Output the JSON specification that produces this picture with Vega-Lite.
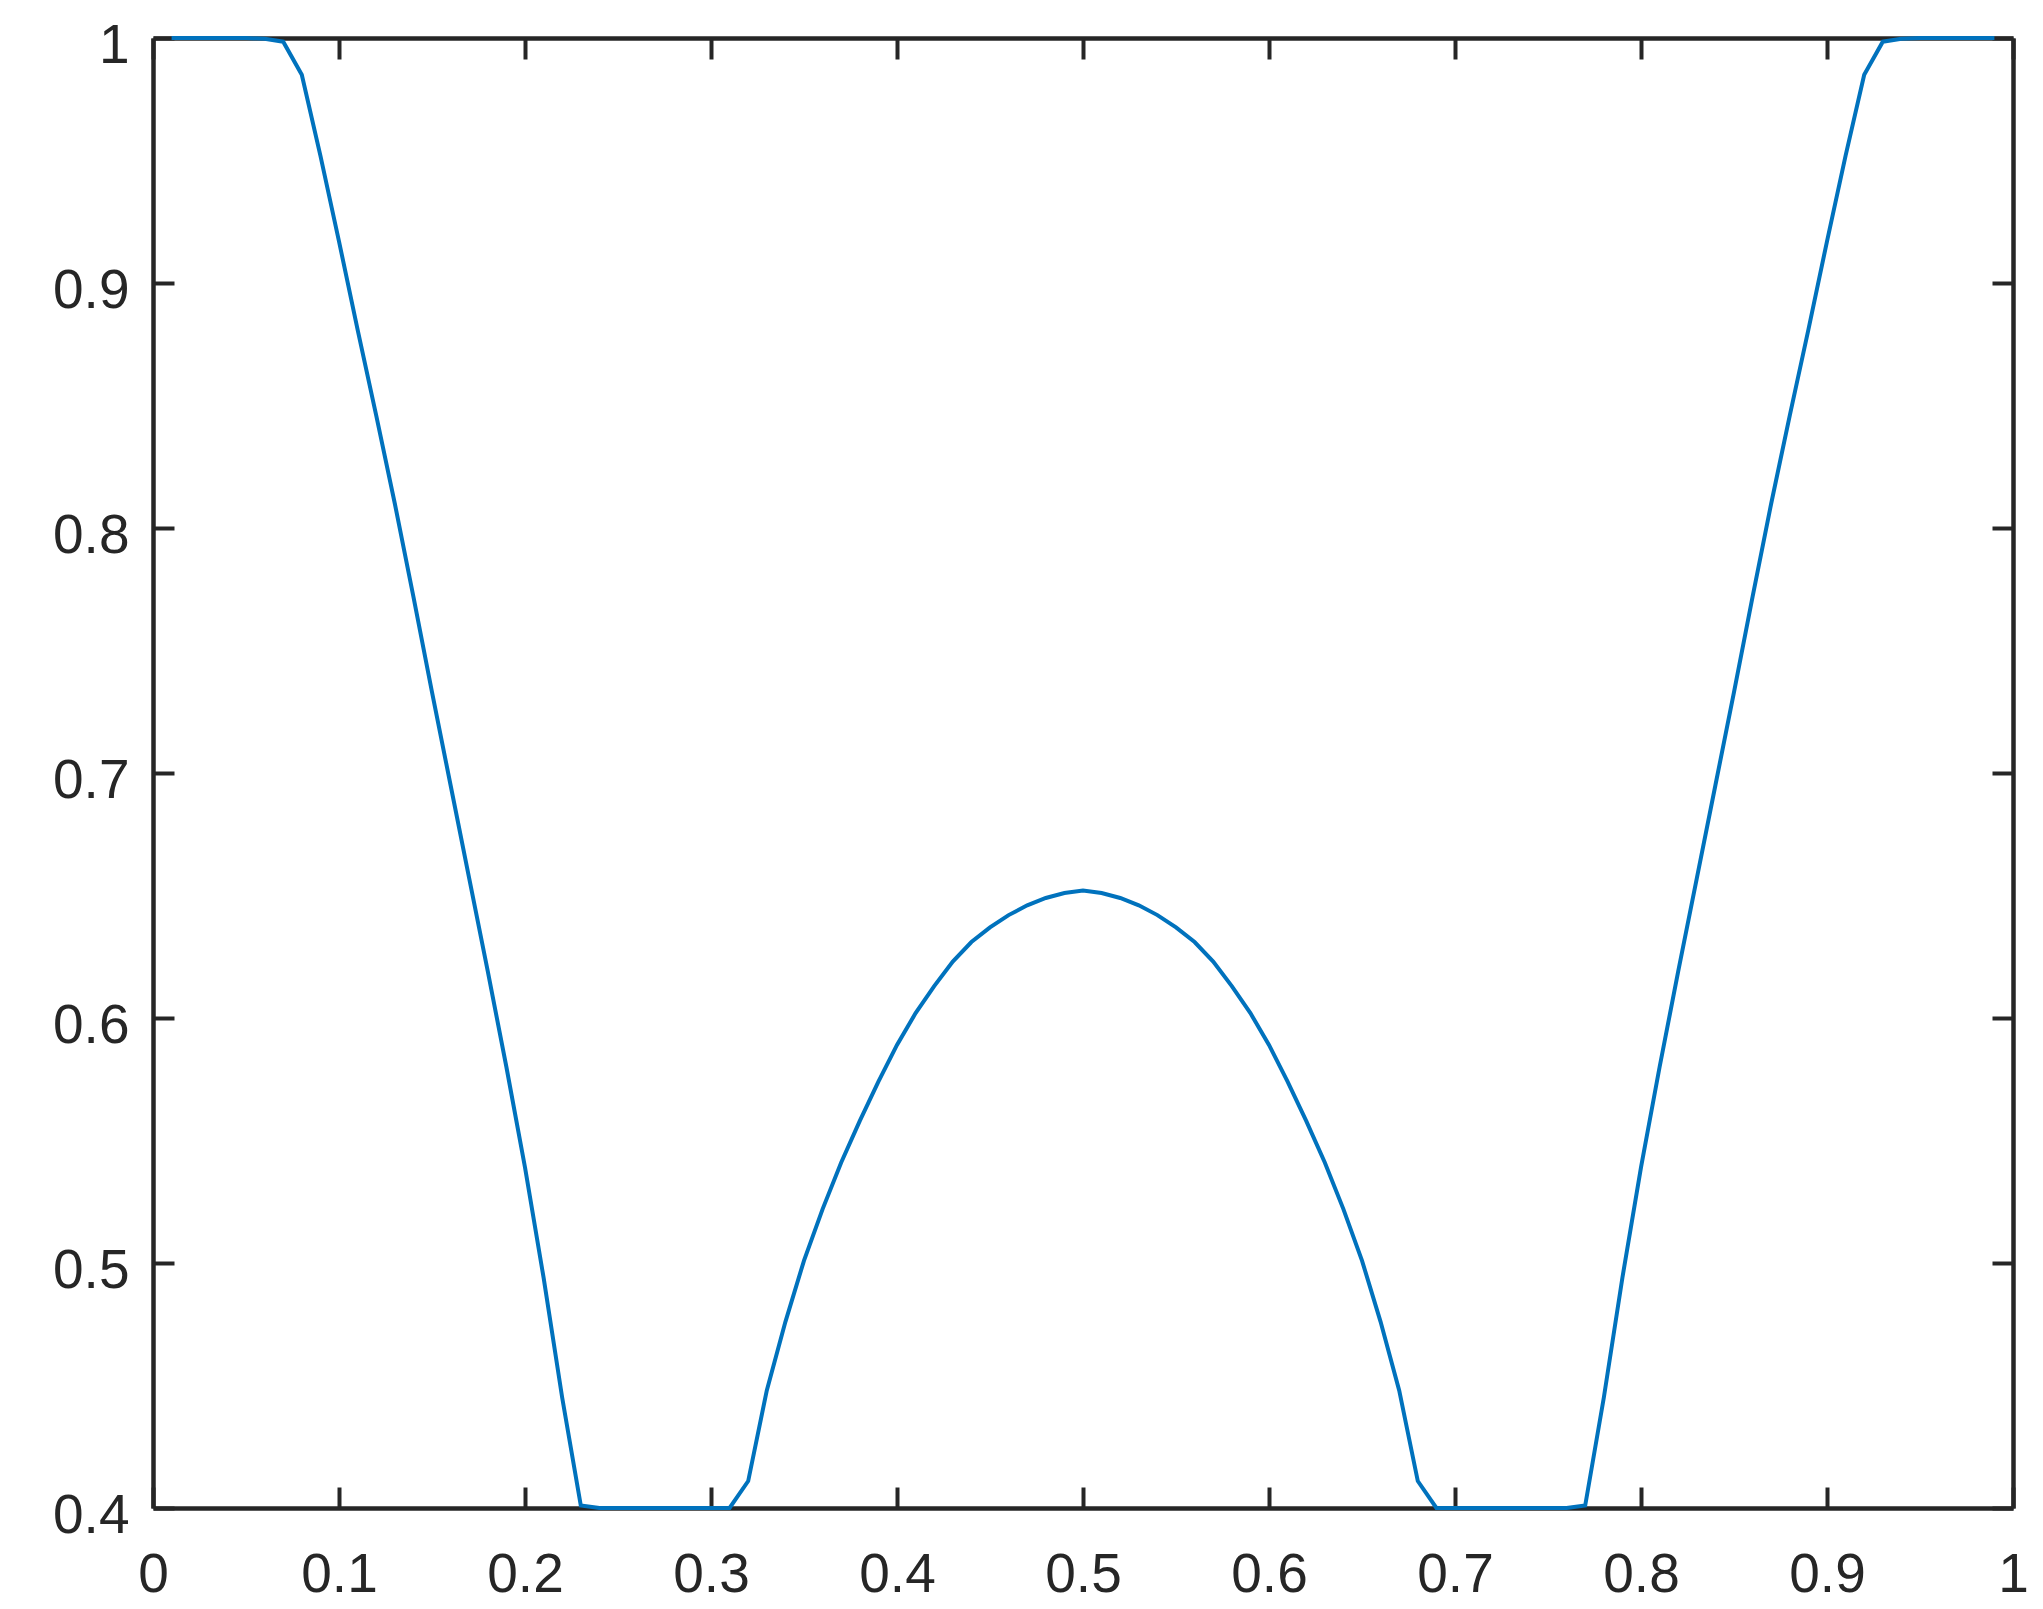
{
  "$schema": "https://vega.github.io/schema/vega-lite/v6.json",
  "width": 1860,
  "height": 1470,
  "autosize": {"type": "none"},
  "padding": {"left": 153, "top": 38, "right": 30, "bottom": 101},
  "background": "white",
  "config": {
    "view": {"stroke": null},
    "font": "Liberation Sans",
    "axis": {
      "grid": false,
      "domainColor": "#262626",
      "domainWidth": 4.5,
      "tickColor": "#262626",
      "tickWidth": 4,
      "tickSize": -21,
      "labelColor": "#262626",
      "labelFont": "Liberation Sans",
      "labelFontSize": 55,
      "title": null
    }
  },
  "data": {"values": [
    {"x": 0.01, "y": 1}, {"x": 0.02, "y": 1}, {"x": 0.03, "y": 1}, {"x": 0.04, "y": 1}, {"x": 0.05, "y": 1},
    {"x": 0.06, "y": 0.9997}, {"x": 0.07, "y": 0.9985}, {"x": 0.08, "y": 0.985}, {"x": 0.09, "y": 0.952}, {"x": 0.10, "y": 0.917},
    {"x": 0.11, "y": 0.881}, {"x": 0.12, "y": 0.846}, {"x": 0.13, "y": 0.810}, {"x": 0.14, "y": 0.772}, {"x": 0.15, "y": 0.733},
    {"x": 0.16, "y": 0.695}, {"x": 0.17, "y": 0.657}, {"x": 0.18, "y": 0.619}, {"x": 0.19, "y": 0.580}, {"x": 0.20, "y": 0.539},
    {"x": 0.21, "y": 0.494}, {"x": 0.22, "y": 0.445}, {"x": 0.23, "y": 0.401}, {"x": 0.24, "y": 0.4}, {"x": 0.25, "y": 0.4},
    {"x": 0.26, "y": 0.4}, {"x": 0.27, "y": 0.4}, {"x": 0.28, "y": 0.4}, {"x": 0.29, "y": 0.4}, {"x": 0.30, "y": 0.4},
    {"x": 0.31, "y": 0.4}, {"x": 0.32, "y": 0.411}, {"x": 0.33, "y": 0.448}, {"x": 0.34, "y": 0.476}, {"x": 0.35, "y": 0.501},
    {"x": 0.36, "y": 0.522}, {"x": 0.37, "y": 0.541}, {"x": 0.38, "y": 0.558}, {"x": 0.39, "y": 0.574}, {"x": 0.40, "y": 0.589},
    {"x": 0.41, "y": 0.602}, {"x": 0.42, "y": 0.613}, {"x": 0.43, "y": 0.623}, {"x": 0.44, "y": 0.631}, {"x": 0.45, "y": 0.637},
    {"x": 0.46, "y": 0.642}, {"x": 0.47, "y": 0.646}, {"x": 0.48, "y": 0.649}, {"x": 0.49, "y": 0.651}, {"x": 0.50, "y": 0.652},
    {"x": 0.51, "y": 0.651}, {"x": 0.52, "y": 0.649}, {"x": 0.53, "y": 0.646}, {"x": 0.54, "y": 0.642}, {"x": 0.55, "y": 0.637},
    {"x": 0.56, "y": 0.631}, {"x": 0.57, "y": 0.623}, {"x": 0.58, "y": 0.613}, {"x": 0.59, "y": 0.602}, {"x": 0.60, "y": 0.589},
    {"x": 0.61, "y": 0.574}, {"x": 0.62, "y": 0.558}, {"x": 0.63, "y": 0.541}, {"x": 0.64, "y": 0.522}, {"x": 0.65, "y": 0.501},
    {"x": 0.66, "y": 0.476}, {"x": 0.67, "y": 0.448}, {"x": 0.68, "y": 0.411}, {"x": 0.69, "y": 0.4}, {"x": 0.70, "y": 0.4},
    {"x": 0.71, "y": 0.4}, {"x": 0.72, "y": 0.4}, {"x": 0.73, "y": 0.4}, {"x": 0.74, "y": 0.4}, {"x": 0.75, "y": 0.4},
    {"x": 0.76, "y": 0.4}, {"x": 0.77, "y": 0.401}, {"x": 0.78, "y": 0.445}, {"x": 0.79, "y": 0.494}, {"x": 0.80, "y": 0.539},
    {"x": 0.81, "y": 0.580}, {"x": 0.82, "y": 0.619}, {"x": 0.83, "y": 0.657}, {"x": 0.84, "y": 0.695}, {"x": 0.85, "y": 0.733},
    {"x": 0.86, "y": 0.772}, {"x": 0.87, "y": 0.810}, {"x": 0.88, "y": 0.846}, {"x": 0.89, "y": 0.881}, {"x": 0.90, "y": 0.917},
    {"x": 0.91, "y": 0.952}, {"x": 0.92, "y": 0.985}, {"x": 0.93, "y": 0.9985}, {"x": 0.94, "y": 0.9997}, {"x": 0.95, "y": 1},
    {"x": 0.96, "y": 1}, {"x": 0.97, "y": 1}, {"x": 0.98, "y": 1}, {"x": 0.99, "y": 1}
  ]},
  "layer": [
    {
      "mark": {"type": "line", "opacity": 0},
      "encoding": {
        "x": {"field": "x", "type": "quantitative", "scale": {"domain": [0, 1], "nice": false, "zero": false},
              "axis": {"orient": "top", "labels": false, "values": [0, 0.1, 0.2, 0.3, 0.4, 0.5, 0.6, 0.7, 0.8, 0.9, 1]}},
        "y": {"field": "y", "type": "quantitative", "scale": {"domain": [0.4, 1], "nice": false, "zero": false},
              "axis": {"orient": "right", "labels": false, "values": [0.4, 0.5, 0.6, 0.7, 0.8, 0.9, 1]}}
      }
    },
    {
      "mark": {"type": "line", "color": "#0072BD", "strokeWidth": 4, "clip": false},
      "encoding": {
        "x": {"field": "x", "type": "quantitative", "scale": {"domain": [0, 1], "nice": false, "zero": false},
              "axis": {"orient": "bottom", "values": [0, 0.1, 0.2, 0.3, 0.4, 0.5, 0.6, 0.7, 0.8, 0.9, 1], "format": "~g", "labelFlush": false, "labelOverlap": false, "labelPadding": 61}},
        "y": {"field": "y", "type": "quantitative", "scale": {"domain": [0.4, 1], "nice": false, "zero": false},
              "axis": {"orient": "left", "values": [0.4, 0.5, 0.6, 0.7, 0.8, 0.9, 1], "format": "~g", "labelOverlap": false, "labelPadding": 45, "labelOffset": 7}}
      }
    }
  ],
  "resolve": {"axis": {"x": "independent", "y": "independent"}}
}
